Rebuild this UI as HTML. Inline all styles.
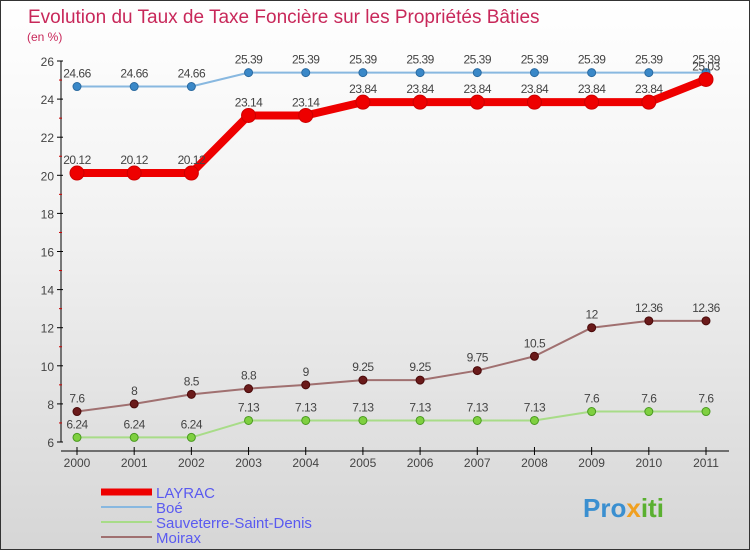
<!DOCTYPE html>
<html><head><meta charset="utf-8"><style>
body{margin:0}
#wrap{width:750px;height:550px;position:relative;box-sizing:border-box;border:1px solid #333;background:linear-gradient(#ffffff,#f2f2f2 40%,#d6d6d6);font-family:"Liberation Sans",sans-serif;overflow:hidden}
svg text{font-family:"Liberation Sans",sans-serif}
</style></head><body>
<div id="wrap">
<svg id="c" width="750" height="550">
<text x="27" y="22" font-size="19" fill="#c8285a">Evolution du Taux de Taxe Foncière sur les Propriétés Bâties</text>
<text x="26" y="40" font-size="12" fill="#c8285a">(en %)</text>
<g id="axes"></g><g id="series"></g><g id="legend"></g>
<text x="582" y="516" font-size="26" font-weight="bold" fill="#3a8fd0">Pro<tspan fill="#f0a020">x</tspan><tspan fill="#5ab030">iti</tspan></text>
</svg></div>
<script>
const years=[2000,2001,2002,2003,2004,2005,2006,2007,2008,2009,2010,2011];
const layrac=[20.12,20.12,20.12,23.14,23.14,23.84,23.84,23.84,23.84,23.84,23.84,25.03];
const boe=[24.66,24.66,24.66,25.39,25.39,25.39,25.39,25.39,25.39,25.39,25.39,25.39];
const sauveterre=[6.24,6.24,6.24,7.13,7.13,7.13,7.13,7.13,7.13,7.6,7.6,7.6];
const moirax=[7.6,8,8.5,8.8,9,9.25,9.25,9.75,10.5,12,12.36,12.36];
const yTicks=[6,8,10,12,14,16,18,20,22,24,26];
const NS='http://www.w3.org/2000/svg';
const x=i=>76+i*(705-76)/11;
const y=v=>441-(v-6)*(441-60)/20;
function mk(t,a,p){const e=document.createElementNS(NS,t);for(const k in a)e.setAttribute(k,a[k]);p.appendChild(e);return e;}
const ax=document.getElementById('axes');
let e=mk('line',{x1:60,y1:60,x2:60,y2:441,stroke:'#000','stroke-width':1},ax);


e=mk('line',{x1:60,y1:450,x2:728,y2:450,stroke:'#000','stroke-width':1},ax);


yTicks.forEach(v=>{
 mk('line',{x1:56,y1:y(v),x2:62,y2:y(v),stroke:'#000'},ax);
 mk('line',{x1:58,y1:y(v+1),x2:61,y2:y(v+1),stroke:v<26?'#c00':'none'},ax);
 const t=mk('text',{x:53,y:y(v)+5,'font-size':12,fill:'#444','text-anchor':'end'},ax);t.textContent=v;
 
 
});
years.forEach((yr,i)=>{
 mk('line',{x1:x(i),y1:446,x2:x(i),y2:454,stroke:'#000'},ax);
 const t=mk('text',{x:x(i),y:466,'font-size':12,fill:'#444','text-anchor':'middle'},ax);t.textContent=yr;
 
 
});
const sg=document.getElementById('series');
function series(name,vals,col,dot,w,r,dotStroke){
 const g=mk('g',{},sg);
 
 
 mk('polyline',{points:vals.map((v,i)=>x(i)+','+y(v)).join(' '),fill:'none',stroke:col,'stroke-width':w,'stroke-linejoin':'round'},g);
 vals.forEach((v,i)=>{
  const c=mk('circle',{cx:x(i),cy:y(v),r:r,fill:dot,stroke:dotStroke,'stroke-width':1},g);
  
  
  const t=mk('text',{x:x(i),y:y(v)-9,'font-size':12,fill:'#444','text-anchor':'middle','letter-spacing':'-0.5'},g);
  t.textContent=v;
  
  
 });
}
series('sauveterre',sauveterre,'#a8dc88','#7fd040',2,4,'#4a9a20');
series('moirax',moirax,'#a07070','#6a1a1a',2,4,'#4a0a0a');
series('boe',boe,'#88b8e0','#3a88c8',2,4,'#2a6aa0');
series('layrac',layrac,'#ee0000','#ee0000',8,7,'#cc0000');
const lg=document.getElementById('legend');
[['LAYRAC','#ee0000',7,'layrac'],['Boé','#88b8e0',2,'boe'],['Sauveterre-Saint-Denis','#a8dc88',2,'sauveterre'],['Moirax','#a07070',2,'moirax']].forEach((d,i)=>{
 const yy=491+i*15;
 const g=mk('g',{},lg);
 
 
 mk('line',{x1:100,y1:yy,x2:151,y2:yy,stroke:d[1],'stroke-width':d[2]},g);
 const t=mk('text',{x:155,y:yy+6,'font-size':15,fill:'#5a5af0'},g);t.textContent=d[0];
});
</script>
</body></html>
